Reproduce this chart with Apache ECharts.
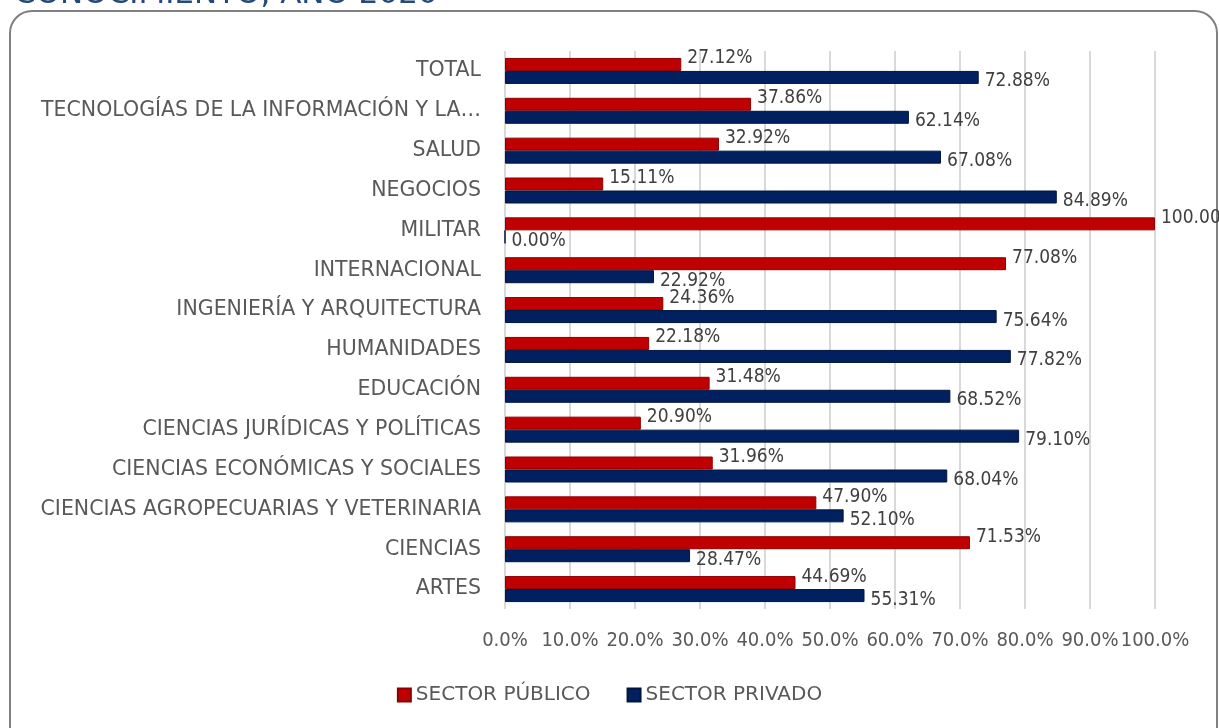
<!DOCTYPE html>
<html>
<head>
<meta charset="utf-8">
<script src="https://cdn.jsdelivr.net/npm/echarts@6/dist/echarts.min.js"></script>
<style>
  html, body { margin: 0; padding: 0; background: #fff; }
  #chart { width: 1219px; height: 728px; }
</style>
</head>
<body>
<div id="chart"></div>
<script>
// datos (porcentaje por area del conocimiento)
const categorias = [
  'TOTAL',
  'TECNOLOGÍAS DE LA INFORMACIÓN Y LA COMUNICACIÓN',
  'SALUD',
  'NEGOCIOS',
  'MILITAR',
  'INTERNACIONAL',
  'INGENIERÍA Y ARQUITECTURA',
  'HUMANIDADES',
  'EDUCACIÓN',
  'CIENCIAS JURÍDICAS Y POLÍTICAS',
  'CIENCIAS ECONÓMICAS Y SOCIALES',
  'CIENCIAS AGROPECUARIAS Y VETERINARIA',
  'CIENCIAS',
  'ARTES'
];
const sectorPublico = [27.12, 37.86, 32.92, 15.11, 100.00, 77.08, 24.36, 22.18, 31.48, 20.90, 31.96, 47.90, 71.53, 44.69];
const sectorPrivado = [72.88, 62.14, 67.08, 84.89, 0.00, 22.92, 75.64, 77.82, 68.52, 79.10, 68.04, 52.10, 28.47, 55.31];
const nombresSerie = ['SECTOR PÚBLICO', 'SECTOR PRIVADO'];

const chart = echarts.init(document.getElementById('chart'));

const fuenteCond = '"DejaVu Sans Condensed", "DejaVu Sans", sans-serif';
const fuente = '"DejaVu Sans", sans-serif';

const etiqueta = function (dy) {
  return {
    show: true,
    position: 'right',
    distance: 6,
    offset: [0, dy],
    color: '#404040',
    fontFamily: fuenteCond,
    fontSize: 19,
    formatter: function (p) { return p.value.toFixed(2) + '%'; }
  };
};

const option = {
  animation: false,
  backgroundColor: '#fff',
  graphic: [
    {
      type: 'rect',
      shape: { x: 10, y: 11, width: 1207, height: 800, r: 22 },
      style: { fill: 'none', stroke: '#808080', lineWidth: 2 },
      silent: true
    },
    {
      type: 'text',
      left: 14,
      top: -21,
      style: {
        text: 'CONOCIMIENTO, AÑO 2020',
        fill: '#24497a',
        font: '31px "DejaVu Sans", sans-serif'
      },
      silent: true
    }
  ],
  legend: {
    bottom: 18,
    left: 'center',
    itemWidth: 13,
    itemHeight: 13,
    itemGap: 36,
    icon: 'rect',
    data: nombresSerie,
    textStyle: { color: '#595959', fontSize: 20, fontFamily: fuente }
  },
  grid: { left: 505, right: 64, top: 51, bottom: 119, containLabel: false },
  xAxis: {
    type: 'value',
    min: 0,
    max: 100,
    interval: 10,
    axisLine: { show: false },
    axisTick: { show: false },
    splitLine: { show: true, lineStyle: { color: '#d9d9d9', width: 2 } },
    axisLabel: {
      margin: 22,
      color: '#595959',
      fontSize: 20,
      fontFamily: fuenteCond,
      formatter: function (v) { return v.toFixed(1) + '%'; }
    }
  },
  yAxis: {
    type: 'category',
    inverse: true,
    data: categorias,
    axisLine: { show: false },
    axisTick: { show: false },
    axisLabel: {
      margin: 24,
      color: '#595959',
      fontSize: 20.5,
      fontFamily: fuente,
      formatter: function (v) { return v.length > 40 ? v.slice(0, 34) + '…' : v; }
    }
  },
  series: [
    {
      name: nombresSerie[0],
      type: 'bar',
      data: sectorPublico,
      barWidth: 13,
      barGap: '0%',
      itemStyle: { color: '#c00000', borderColor: '#8b0000', borderWidth: 1 },
      label: etiqueta(-6)
    },
    {
      name: nombresSerie[1],
      type: 'bar',
      data: sectorPrivado,
      barWidth: 13,
      itemStyle: { color: '#002060', borderColor: '#001540', borderWidth: 1 },
      label: etiqueta(4)
    }
  ]
};

chart.setOption(option);
</script>
</body>
</html>
